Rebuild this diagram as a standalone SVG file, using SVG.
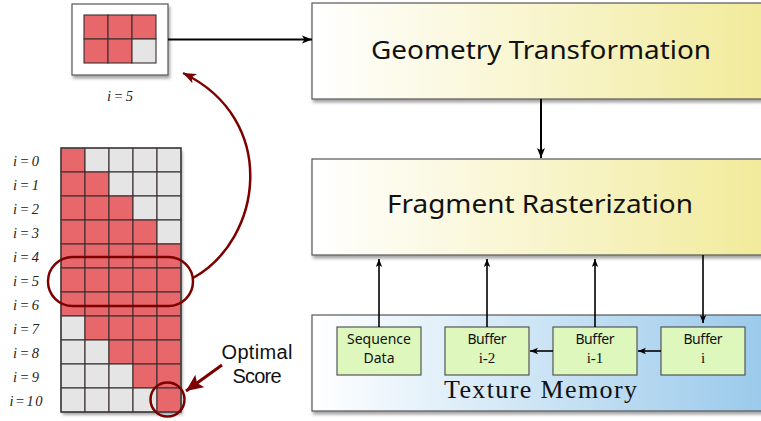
<svg xmlns="http://www.w3.org/2000/svg" width="761" height="421" viewBox="0 0 761 421">
<defs>
<linearGradient id="gy" x1="0" y1="0" x2="1" y2="0">
<stop offset="0" stop-color="#ffffff"/>
<stop offset="1" stop-color="#f1ea98"/>
</linearGradient>
<linearGradient id="gb" x1="0" y1="0" x2="1" y2="0">
<stop offset="0" stop-color="#ffffff"/>
<stop offset="1" stop-color="#97c8ea"/>
</linearGradient>
<filter id="sh" x="-10%" y="-10%" width="130%" height="140%">
<feDropShadow dx="1.5" dy="3" stdDeviation="1.8" flood-color="#000" flood-opacity="0.35"/>
</filter>
<marker id="ab" viewBox="0 0 10 10" refX="10" refY="5" markerWidth="10" markerHeight="10" markerUnits="userSpaceOnUse" orient="auto">
<path d="M0,1 L10,5 L0,9 L2.5,5 Z" fill="#000"/>
</marker>
<marker id="as" viewBox="0 0 10 10" refX="10" refY="5" markerWidth="8" markerHeight="8" markerUnits="userSpaceOnUse" orient="auto">
<path d="M0,1 L10,5 L0,9 L2.5,5 Z" fill="#000"/>
</marker>
<marker id="ar" viewBox="0 0 10 10" refX="10" refY="5" markerWidth="13" markerHeight="13" markerUnits="userSpaceOnUse" orient="auto">
<path d="M0,1 L10,5 L0,9 L2.5,5 Z" fill="#7d0000"/>
</marker>
<marker id="ar2" viewBox="0 0 10 10" refX="10" refY="5" markerWidth="17" markerHeight="17" markerUnits="userSpaceOnUse" orient="auto">
<path d="M0,0.5 L10,5 L0,9.5 L2,5 Z" fill="#7d0000"/>
</marker>
</defs>
<style>
.r{fill:#e8676a;stroke:#3a3030;stroke-width:1.1}
.g{fill:#e5e5e5;stroke:#3a3030;stroke-width:1.1}
.lbl{font-family:"Liberation Serif",serif;font-style:italic;font-size:14.5px;fill:#222;text-anchor:middle}
.big{font-family:"Noto Sans","Liberation Sans",sans-serif;font-size:25px;fill:#111;text-anchor:middle}
.sm{font-family:"Noto Sans","Liberation Sans",sans-serif;font-size:14px;fill:#111;text-anchor:middle}
.opt{font-family:"Liberation Sans",sans-serif;font-size:20px;fill:#111;text-anchor:middle}
.ser{font-family:"Liberation Serif",serif;font-size:15px;fill:#111;text-anchor:middle}
.tm{font-family:"Liberation Serif",serif;font-size:26px;fill:#111;text-anchor:middle}
.buf{fill:#ddf7bd;stroke:#555;stroke-width:1.2}
.line{stroke:#000;stroke-width:2;fill:none}
.thin{stroke:#000;stroke-width:1.6;fill:none}
.red{stroke:#7d0000;stroke-width:2.5;fill:none}
</style>

<g id="small-box">
<rect x="72" y="4" width="96" height="71" fill="#fff" stroke="#555" stroke-width="1.2" filter="url(#sh)"/>
<rect class="r" x="84" y="15" width="24" height="24"/>
<rect class="r" x="108" y="15" width="24" height="24"/>
<rect class="r" x="132" y="15" width="24" height="24"/>
<rect class="r" x="84" y="39" width="24" height="24"/>
<rect class="r" x="108" y="39" width="24" height="24"/>
<rect class="g" x="132" y="39" width="24" height="24"/>
<text class="lbl" x="120" y="101" textLength="26">i=5</text>
</g>

<g id="big-grid">
<rect x="61" y="148" width="120" height="264" fill="#fff" filter="url(#sh)"/>
<rect class="r" x="61" y="148" width="24" height="24"/><rect class="g" x="85" y="148" width="24" height="24"/><rect class="g" x="109" y="148" width="24" height="24"/><rect class="g" x="133" y="148" width="24" height="24"/><rect class="g" x="157" y="148" width="24" height="24"/>
<rect class="r" x="61" y="172" width="24" height="24"/><rect class="r" x="85" y="172" width="24" height="24"/><rect class="g" x="109" y="172" width="24" height="24"/><rect class="g" x="133" y="172" width="24" height="24"/><rect class="g" x="157" y="172" width="24" height="24"/>
<rect class="r" x="61" y="196" width="24" height="24"/><rect class="r" x="85" y="196" width="24" height="24"/><rect class="r" x="109" y="196" width="24" height="24"/><rect class="g" x="133" y="196" width="24" height="24"/><rect class="g" x="157" y="196" width="24" height="24"/>
<rect class="r" x="61" y="220" width="24" height="24"/><rect class="r" x="85" y="220" width="24" height="24"/><rect class="r" x="109" y="220" width="24" height="24"/><rect class="r" x="133" y="220" width="24" height="24"/><rect class="g" x="157" y="220" width="24" height="24"/>
<rect class="r" x="61" y="244" width="24" height="24"/><rect class="r" x="85" y="244" width="24" height="24"/><rect class="r" x="109" y="244" width="24" height="24"/><rect class="r" x="133" y="244" width="24" height="24"/><rect class="r" x="157" y="244" width="24" height="24"/>
<rect class="r" x="61" y="268" width="24" height="24"/><rect class="r" x="85" y="268" width="24" height="24"/><rect class="r" x="109" y="268" width="24" height="24"/><rect class="r" x="133" y="268" width="24" height="24"/><rect class="r" x="157" y="268" width="24" height="24"/>
<rect class="r" x="61" y="292" width="24" height="24"/><rect class="r" x="85" y="292" width="24" height="24"/><rect class="r" x="109" y="292" width="24" height="24"/><rect class="r" x="133" y="292" width="24" height="24"/><rect class="r" x="157" y="292" width="24" height="24"/>
<rect class="g" x="61" y="316" width="24" height="24"/><rect class="r" x="85" y="316" width="24" height="24"/><rect class="r" x="109" y="316" width="24" height="24"/><rect class="r" x="133" y="316" width="24" height="24"/><rect class="r" x="157" y="316" width="24" height="24"/>
<rect class="g" x="61" y="340" width="24" height="24"/><rect class="g" x="85" y="340" width="24" height="24"/><rect class="r" x="109" y="340" width="24" height="24"/><rect class="r" x="133" y="340" width="24" height="24"/><rect class="r" x="157" y="340" width="24" height="24"/>
<rect class="g" x="61" y="364" width="24" height="24"/><rect class="g" x="85" y="364" width="24" height="24"/><rect class="g" x="109" y="364" width="24" height="24"/><rect class="r" x="133" y="364" width="24" height="24"/><rect class="r" x="157" y="364" width="24" height="24"/>
<rect class="g" x="61" y="388" width="24" height="24"/><rect class="g" x="85" y="388" width="24" height="24"/><rect class="g" x="109" y="388" width="24" height="24"/><rect class="g" x="133" y="388" width="24" height="24"/><rect class="r" x="157" y="388" width="24" height="24"/>
<rect x="61" y="148" width="120" height="264" fill="none" stroke="#444" stroke-width="1.4"/>
</g>

<g id="row-labels">
<text class="lbl" x="26" y="166" textLength="26">i=0</text>
<text class="lbl" x="26" y="190" textLength="26">i=1</text>
<text class="lbl" x="26" y="214" textLength="26">i=2</text>
<text class="lbl" x="26" y="238" textLength="26">i=3</text>
<text class="lbl" x="26" y="262" textLength="26">i=4</text>
<text class="lbl" x="26" y="286" textLength="26">i=5</text>
<text class="lbl" x="26" y="310" textLength="26">i=6</text>
<text class="lbl" x="26" y="334" textLength="26">i=7</text>
<text class="lbl" x="26" y="358" textLength="26">i=8</text>
<text class="lbl" x="26" y="382" textLength="26">i=9</text>
<text class="lbl" x="26" y="406" textLength="33">i=10</text>
</g>

<g id="highlights">
<rect class="red" x="48" y="257" width="145" height="49" rx="24.5"/>
<circle class="red" cx="167.5" cy="399.5" r="17"/>
</g>

<g id="optimal-score">
<text class="opt" x="257" y="359" textLength="71">Optimal</text>
<text class="opt" x="257" y="383" textLength="49">Score</text>
</g>

<g id="geometry">
<rect x="312" y="3" width="465" height="96" fill="url(#gy)" stroke="#555" stroke-width="1.2" filter="url(#sh)"/>
<text class="big" x="541" y="59" textLength="340" lengthAdjust="spacingAndGlyphs">Geometry Transformation</text>
</g>

<g id="rasterization">
<rect x="312" y="159" width="465" height="96" fill="url(#gy)" stroke="#555" stroke-width="1.2" filter="url(#sh)"/>
<text class="big" x="540" y="213" textLength="306" lengthAdjust="spacingAndGlyphs">Fragment Rasterization</text>
</g>

<g id="texture-memory">
<rect x="312" y="315" width="465" height="96" fill="url(#gb)" stroke="#555" stroke-width="1.2" filter="url(#sh)"/>
<text class="tm" x="540.5" y="398" textLength="193">Texture Memory</text>
</g>

<g id="sequence-data">
<rect class="buf" x="337" y="327" width="84" height="48"/>
<text class="sm" x="379" y="344" textLength="64">Sequence</text>
<text class="sm" x="379" y="363">Data</text>
</g>
<g id="buffer-i-2">
<rect class="buf" x="445" y="327" width="84" height="48"/>
<text class="sm" x="487" y="344" textLength="39">Buffer</text>
<text class="ser" x="487" y="363">i-2</text>
</g>
<g id="buffer-i-1">
<rect class="buf" x="553" y="327" width="84" height="48"/>
<text class="sm" x="595" y="344" textLength="39">Buffer</text>
<text class="ser" x="595" y="363">i-1</text>
</g>
<g id="buffer-i">
<rect class="buf" x="661" y="327" width="84" height="48"/>
<text class="sm" x="703" y="344" textLength="39">Buffer</text>
<text class="ser" x="703" y="363">i</text>
</g>

<g id="connectors">
<line class="line" x1="168" y1="39.5" x2="312" y2="39.5" marker-end="url(#ab)"/>
<line class="line" x1="541" y1="99" x2="541" y2="158" marker-end="url(#ab)"/>
<line class="thin" x1="379" y1="327" x2="379" y2="259" marker-end="url(#as)"/>
<line class="thin" x1="487" y1="327" x2="487" y2="259" marker-end="url(#as)"/>
<line class="thin" x1="595" y1="327" x2="595" y2="259" marker-end="url(#as)"/>
<line class="thin" x1="703" y1="255" x2="703" y2="323" marker-end="url(#as)"/>
<line class="thin" x1="553" y1="351" x2="530" y2="351" marker-end="url(#as)"/>
<line class="thin" x1="661" y1="351" x2="638" y2="351" marker-end="url(#as)"/>
<path class="red" d="M193,278 C262,240 280,120 183,73" marker-end="url(#ar)"/>
<line class="red" style="stroke-width:3" x1="222" y1="365" x2="186" y2="391" marker-end="url(#ar2)"/>
</g>
</svg>
